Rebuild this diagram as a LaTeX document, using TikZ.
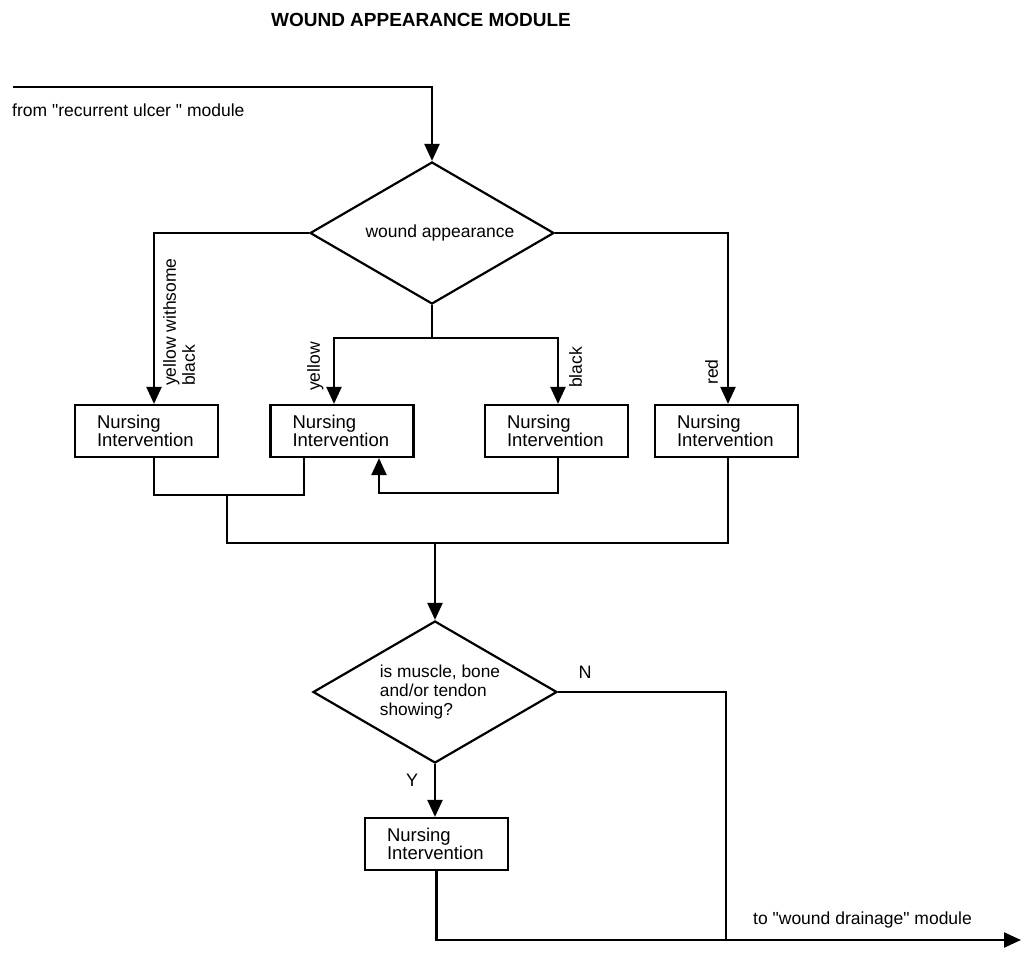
\documentclass[tikz,border=0pt]{standalone}
\usepackage{fontspec}
\setmainfont{Liberation Sans}
\usetikzlibrary{arrows.meta,shapes.geometric}
\begin{document}
\begin{tikzpicture}[x=1pt,y=-1pt,
  line/.style={line width=2.2pt, line join=miter},
  arr/.style={line, -{Triangle[length=17pt,width=15pt]}},
  decision/.style={diamond, draw, line width=2.2pt, minimum width=244pt,
    minimum height=142pt, inner sep=0pt},
  nibox/.style={rectangle, draw, line width=2.2pt, minimum width=143pt,
    minimum height=52pt, text width=99pt, inner xsep=22pt, inner ysep=0pt,
    align=left, font=\fontsize{18.5}{18}\selectfont},
  txt/.style={font=\fontsize{17.5}{19}\selectfont, inner sep=0pt},
  side/.style={txt, rotate=90, anchor=north west, align=left}]

% page
\fill[white] (0,0) rectangle (1022,953);
\useasboundingbox (0,0) rectangle (1022,953);

% title
\node[font=\bfseries\fontsize{19}{22}\selectfont, inner sep=0pt] (title) at (421,20) {WOUND APPEARANCE MODULE};

% decisions
\node[decision] (d1) at (432,233) {};
\node[txt] (d1t) at (440,233) {wound appearance};
\node[decision] (d2) at (435,692) {};
\node[txt, align=left, font=\fontsize{17.3}{19}\selectfont] (d2t) at (440,692) {is muscle, bone\\and/or tendon\\showing?};

% interventions
\node[nibox] (b1) at (146.5,431) {Nursing\\Intervention};
\node[nibox] (b2) at (342,431) {Nursing\\Intervention};
\node[nibox] (b3) at (556.5,431) {Nursing\\Intervention};
\node[nibox] (b4) at (726.5,431) {Nursing\\Intervention};
\node[nibox] (b5) at (436.5,844) {Nursing\\Intervention};

% connector positions
\coordinate (src) at (13,87);
\coordinate (xa) at (154,0);
\coordinate (xb) at (334,0);
\coordinate (xc) at (558,0);
\coordinate (xd) at (728,0);
\coordinate (xe) at (304,0);
\coordinate (jm) at (432,338);
\coordinate (ja) at (227,495);
\coordinate (jb) at (379,493);
\coordinate (jc) at (435,543);
\coordinate (jd) at (726,940);
\coordinate (out) at (1021,940);

% entry from previous module
\draw[arr] (src) -| (d1.north);
\node[txt, anchor=west] (from) at (12,110) {from \textquotedbl recurrent ulcer \textquotedbl\ module};

% wound appearance branches
\draw[arr] (d1.west) -| (b1.north -| xa);
\draw[arr] (d1.east) -| (b4.north -| xd);
\draw[line] (d1.south) -- (jm);
\draw[arr] (jm) -| (b2.north -| xb);
\draw[arr] (jm) -| (b3.north -| xc);

\node[side] (l1) at (163,386) {yellow withsome\\black};
\node[side] (l2) at (307,391) {yellow};
\node[side] (l3) at (569,388) {black};
\node[side] (l4) at (705,385) {red};

% merging the interventions
\draw[line] (b1.south -| xa) |- (ja) -| (b2.south -| xe);
\draw[arr] (b3.south -| xc) |- (jb) -- (b2.south -| jb);
\draw[line] (ja) |- (jc) -| (b4.south -| xd);
\draw[arr] (jc) -- (d2.north);

% tissue decision
\draw[arr] (d2.south) -- (d2.south |- b5.north);
\node[txt, font=\fontsize{18}{19}\selectfont] (yes) at (412,780) {Y};
\node[txt, font=\fontsize{18}{19}\selectfont] (no) at (585,672) {N};
\draw[line] (d2.east) -| (jd);
\draw[arr] (b5.south) |- (out);
\node[txt, anchor=west] (to) at (753,920) {to \textquotedbl wound drainage\textquotedbl\ module};

\end{tikzpicture}
\end{document}
